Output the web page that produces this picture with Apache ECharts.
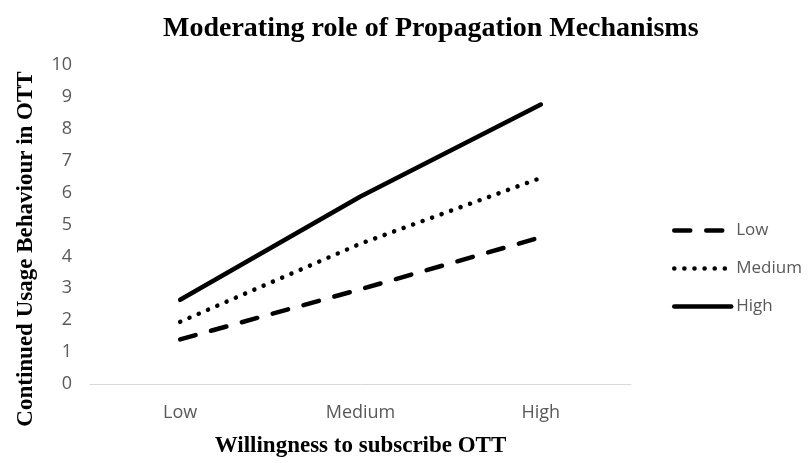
<!DOCTYPE html>
<html>
<head>
<meta charset="utf-8">
<script src="https://cdn.jsdelivr.net/npm/echarts@6/dist/echarts.min.js"></script>
<style>html,body{margin:0;padding:0;background:#fff}#c{width:808px;height:463px}</style>
</head>
<body>
<div id="c"></div>
<script>
const categories = ['Low', 'Medium', 'High'];
const lowValues = [1.4, 2.97, 4.6];
const mediumValues = [1.95, 4.4, 6.46];
const highValues = [2.64, 5.88, 8.76];
const seriesNames = ['Low', 'Medium', 'High'];
const yTicks = { min: 0, max: 10, interval: 1 };
const titleText = 'Moderating role of Propagation Mechanisms';
const xTitle = 'Willingness to subscribe OTT';
const yTitle = 'Continued Usage Behaviour in OTT';

const chart = echarts.init(document.getElementById('c'), null, { renderer: 'canvas' });
const serif = '"Liberation Serif", "Times New Roman", serif';
const sans = '"Open Sans", "Liberation Sans", sans-serif';
function lineSeries(name, data, type) {
  return {
    name: name, type: 'line', data: data, symbol: 'none', smooth: false,
    lineStyle: { color: '#000', width: 4.5, type: type, cap: 'round' },
    itemStyle: { color: '#000' }
  };
}
chart.setOption({
  animation: false,
  backgroundColor: '#fff',
  title: {
    text: titleText,
    left: 158, top: 10,
    textStyle: { fontFamily: serif, fontWeight: 'bold', fontSize: 28, color: '#000' }
  },
  legend: {
    orient: 'vertical', left: 667, top: 217,
    itemWidth: 57, itemHeight: 18, itemGap: 21,
    itemStyle: { color: 'rgba(0,0,0,0)', borderWidth: 0, opacity: 0 },
    lineStyle: { width: 4.5, cap: 'round', color: '#000' },
    textStyle: { fontFamily: sans, fontSize: 17, color: '#595959' },
    data: seriesNames
  },
  grid: { left: 90, right: 177, top: 65, bottom: 75, containLabel: false },
  xAxis: {
    type: 'category', data: categories, boundaryGap: true,
    axisLine: { lineStyle: { color: '#d9d9d9', width: 1 } },
    axisTick: { show: false },
    axisLabel: { fontFamily: sans, fontSize: 18, color: '#595959', margin: 20 },
    name: xTitle, nameLocation: 'middle', nameGap: 51,
    nameTextStyle: { fontFamily: serif, fontWeight: 'bold', fontSize: 23, color: '#000' }
  },
  yAxis: {
    type: 'value', min: yTicks.min, max: yTicks.max, interval: yTicks.interval,
    splitLine: { show: false },
    axisLine: { show: false }, axisTick: { show: false },
    axisLabel: { fontFamily: sans, fontSize: 18, color: '#595959', margin: 18 }
  },
  graphic: [{
    type: 'text', x: 26, y: 249, rotation: Math.PI / 2,
    style: {
      text: yTitle, fontFamily: serif, fontWeight: 'bold', fontSize: 23, fill: '#000',
      align: 'center', verticalAlign: 'middle'
    }
  }],
  series: [
    lineSeries(seriesNames[0], lowValues, [16, 16]),
    lineSeries(seriesNames[1], mediumValues, [0.1, 10]),
    lineSeries(seriesNames[2], highValues, 'solid')
  ]
});
</script>
</body>
</html>
